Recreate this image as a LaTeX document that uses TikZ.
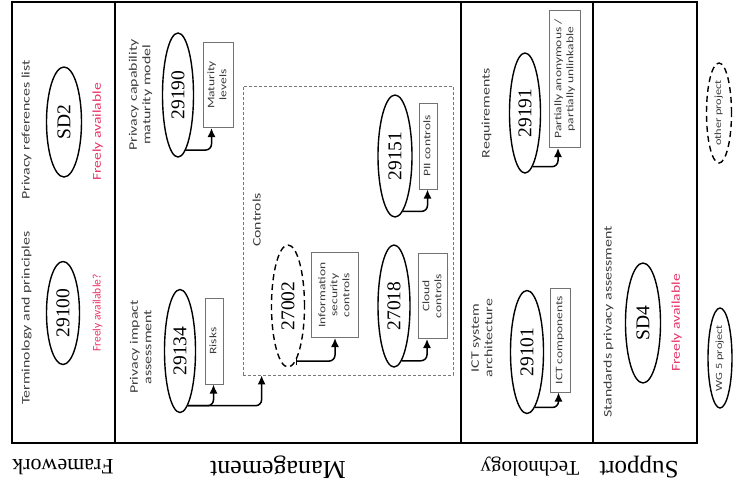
\documentclass[tikz,border=0pt]{standalone}
\usepackage{fontspec}
\setmainfont{Liberation Serif}
\newfontfamily\carl{Carlito}
\usepackage{graphicx}
\usetikzlibrary{shapes.geometric,arrows.meta}
\definecolor{freepink}{RGB}{232,52,105}
\definecolor{boxgray}{RGB}{115,115,115}
\definecolor{dashgray}{RGB}{120,120,120}
\definecolor{labgray}{RGB}{60,60,60}
\newcommand\vtext[2]{\rotatebox{90}{\scalebox{#1}[1]{\begin{tabular}{@{}c@{}}#2\end{tabular}}}}
\begin{document}
\begin{tikzpicture}[x=1pt,y=-1pt,
  frame/.style={line width=2.5pt},
  std/.style={ellipse, draw, line width=1.4pt, inner sep=0pt, font=\fontsize{19.5}{22}\selectfont},
  oth/.style={std, dash pattern=on 6pt off 4pt},
  lbl/.style={font=\carl\fontsize{11.5}{13.5}\selectfont, text=labgray, inner sep=0pt},
  boxn/.style={draw=boxgray, line width=1pt, inner sep=0pt, font=\carl\fontsize{10}{12}\selectfont, text=labgray},
  free/.style={font=\carl\fontsize{12}{14}\selectfont, text=freepink, inner sep=0pt},
  tip/.style={-{Latex[length=9pt,width=8pt]}},
  arr/.style={tip, line width=1.5pt, rounded corners=6pt},
  lane/.style={rotate=180, inner sep=0pt}]
\useasboundingbox (0,0) rectangle (734,491);
% frame
\draw[frame] (12,2) rectangle (697,443);
\draw[frame] (115,2) -- (115,443);
\draw[frame] (461,2) -- (461,443);
\draw[frame] (593,2) -- (593,443);
% lane labels
\node[lane, font=\fontsize{22}{24}\selectfont] (lframe) at (63,467) {Framework};
\node[lane, font=\fontsize{26}{28}\selectfont] (lman) at (278,467) {Management};
\node[lane, font=\fontsize{21}{23}\selectfont] (ltech) at (530,467) {Technology};
\node[lane, font=\fontsize{25}{27}\selectfont] (lsup) at (639,467) {Support};
% Framework
\node[lbl] (tterm) at (27,318) {\vtext{1.38}{Terminology and principles}};
\node[std, minimum width=33, minimum height=103] (e29100) at (63,313) {\rotatebox{90}{29100}};
\node[free, font=\carl\fontsize{11.5}{13}\selectfont] (f29100) at (98,313) {\vtext{1.0}{Freely available?}};
\node[lbl] (tref) at (27,130) {\vtext{1.38}{Privacy references list}};
\node[std, minimum width=35, minimum height=110] (eSD2) at (64,122) {\rotatebox{90}{SD2}};
\node[free] (fSD2) at (98,132) {\vtext{1.3}{Freely available}};
% Management
\node[lbl] (tcap) at (141,95) {\vtext{1.38}{Privacy capability\\maturity model}};
\node[std, minimum width=31, minimum height=124] (e29190) at (178,95) {\rotatebox{90}{29190}};
\node[boxn, minimum width=30, minimum height=85] (bmat) at (218,85) {\vtext{1.35}{Maturity\\levels}};
\node[lbl] (tpia) at (142,347) {\vtext{1.38}{Privacy impact\\assessment}};
\node[std, minimum width=31, minimum height=123] (e29134) at (180,351) {\rotatebox{90}{29134}};
\node[boxn, minimum width=18, minimum height=86] (brisk) at (214,341) {\vtext{1.35}{Risks}};
\node[draw=dashgray, line width=0.8pt, dash pattern=on 3pt off 2pt, minimum width=210, minimum height=289, inner sep=0pt] (controls) at (348,230.5) {};
\node[lbl] (tcontrols) at (258,220) {\vtext{1.38}{Controls}};
\node[oth, minimum width=33, minimum height=122] (e27002) at (288,306) {\rotatebox{90}{27002}};
\node[boxn, minimum width=47, minimum height=85] (binfo) at (335,295) {\vtext{1.35}{Information\\security\\controls}};
\node[std, minimum width=34, minimum height=122] (e29151) at (395,156) {\rotatebox{90}{29151}};
\node[boxn, minimum width=18, minimum height=86] (bpii) at (428,146) {\vtext{1.35}{PII controls}};
\node[std, minimum width=32, minimum height=122] (e27018) at (394,306) {\rotatebox{90}{27018}};
\node[boxn, minimum width=29, minimum height=85] (bcloud) at (433,296) {\vtext{1.35}{Cloud\\controls}};
% Technology
\node[lbl] (treq) at (487,113) {\vtext{1.38}{Requirements}};
\node[std, minimum width=31, minimum height=120] (e29191) at (525,113) {\rotatebox{90}{29191}};
\node[boxn, minimum width=31, minimum height=137] (bpart) at (565,79) {\vtext{1.35}{Partially anonymous /\\partially unlinkable}};
\node[lbl] (tict) at (483,338) {\vtext{1.38}{ICT system\\architecture}};
\node[std, minimum width=33, minimum height=123] (e29101) at (527,352) {\rotatebox{90}{29101}};
\node[boxn, minimum width=20, minimum height=104] (bict) at (560,340) {\vtext{1.35}{ICT components}};
% Support
\node[lbl] (tspa) at (609,322) {\vtext{1.38}{Standards privacy assessment}};
\node[std, minimum width=35, minimum height=120] (eSD4) at (643,323) {\rotatebox{90}{SD4}};
\node[free] (fSD4) at (677,323) {\vtext{1.3}{Freely available}};
% legend
\node[oth, minimum width=25, minimum height=100, font=\carl\fontsize{9.5}{11}\selectfont, text=labgray] (eother) at (719,113) {\vtext{1.3}{other project}};
\node[std, minimum width=24, minimum height=100, font=\carl\fontsize{9.5}{11}\selectfont, text=labgray] (ewg) at (720,358) {\vtext{1.3}{WG 5 project}};
% arrows
\draw[arr] (e29190.-82) -| ([xshift=9pt]bmat.south west);
\draw[arr] (e29134.-82) -| ([xshift=9pt]brisk.south west);
\draw[arr] (e29134.-82) -| ([xshift=19pt]controls.south west);
\draw[arr, {Bar[width=8pt]}-{Latex[length=9pt,width=8pt]}] (e27002.-82) -| (binfo.south);
\draw[arr] (e29151.-82) -| ([xshift=9pt]bpii.south west);
\draw[arr] (e27018.-82) -| ([xshift=9pt]bcloud.south west);
\draw[arr] (e29191.-82) -| ([xshift=9pt]bpart.south west);
\draw[arr] (e29101.-82) -| ([xshift=9pt]bict.south west);
\end{tikzpicture}
\end{document}
